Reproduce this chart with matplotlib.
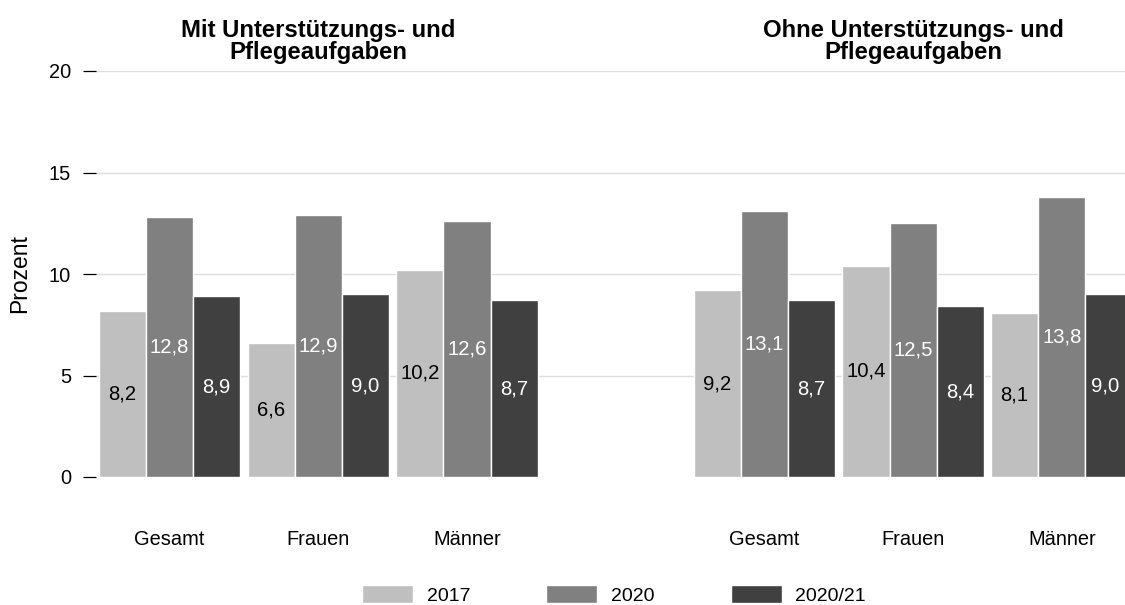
import matplotlib
matplotlib.use("Agg")
import matplotlib.pyplot as plt
import matplotlib.transforms as mtransforms
import numpy as np

plt.rcParams['font.family'] = ['Liberation Sans', 'DejaVu Sans']

categories = ['Gesamt', 'Frauen', 'Männer']
years = ['2017', '2020', '2020/21']
panel_titles = [['Mit Unterstützungs- und', 'Pflegeaufgaben'],
                ['Ohne Unterstützungs- und', 'Pflegeaufgaben']]

mit_2017 = [8.2, 6.6, 10.2]
mit_2020 = [12.8, 12.9, 12.6]
mit_2021 = [8.9, 9.0, 8.7]

ohne_2017 = [9.2, 10.4, 8.1]
ohne_2020 = [13.1, 12.5, 13.8]
ohne_2021 = [8.7, 8.4, 9.0]

colors = ['#bfbfbf', '#808080', '#404040']
label_colors = ['black', 'white', 'white']

W, H = 1125, 605
fig = plt.figure(figsize=(W / 100, H / 100), dpi=100)
ax = fig.add_axes([96 / W, (H - 477) / H, 1 - 96 / W, (477 - 71) / H])

pos_left = np.array([0, 1, 2])
pos_right = np.array([4, 5, 6])
positions = np.concatenate([pos_left, pos_right])
series = [mit_2017 + ohne_2017, mit_2020 + ohne_2020, mit_2021 + ohne_2021]

bw = 0.317
offsets = [-bw, 0, bw]
containers = []
for i, (vals, off) in enumerate(zip(series, offsets)):
    bc = ax.bar(positions + off, vals, width=bw, color=colors[i],
                edgecolor='white', linewidth=1, label=years[i], zorder=2)
    containers.append(bc)
    ax.bar_label(bc, labels=[f"{v:.1f}".replace('.', ',') for v in vals],
                 label_type='center', color=label_colors[i], fontsize=14.6)

ax.set_xlim(-0.495, 6.425)
ax.set_ylim(0, 20)
ax.set_yticks([0, 5, 10, 15, 20])
ax.set_xticks(positions)
ax.set_xticklabels(categories + categories)
ax.tick_params(axis='x', length=0, pad=38, labelsize=14.4)
ax.tick_params(axis='y', length=9.4, width=0.9, pad=8.6, labelsize=14.4,
               direction='out', color='black')
for s in ax.spines.values():
    s.set_visible(False)
ax.yaxis.grid(True, color='#dedede', linewidth=1)
ax.set_axisbelow(True)

ax.set_ylabel('Prozent', fontsize=16.5)
ax.yaxis.set_label_coords(-0.063, 0.5)

trans = mtransforms.blended_transform_factory(ax.transData, fig.transFigure)
for xc, lines in zip([1, 5], panel_titles):
    ax.text(xc, (H - 37) / H, lines[0], transform=trans, ha='center',
            va='baseline', fontsize=17.2, fontweight='bold')
    ax.text(xc, (H - 58.5) / H, lines[1], transform=trans, ha='center',
            va='baseline', fontsize=17.2, fontweight='bold')

fig.legend(handles=containers, labels=years, loc='center left',
           bbox_to_anchor=(362 / W, (H - 595) / H), ncol=3, frameon=False,
           handlelength=2.62, handleheight=1.05, handletextpad=0.72,
           columnspacing=3.9, borderpad=0, borderaxespad=0, fontsize=14)

fig.canvas.draw()
for tick_val, gl in zip(ax.get_yticks(), ax.yaxis.get_gridlines()):
    if tick_val == 0:
        gl.set_visible(False)

fig.savefig('out.png', dpi=100)
